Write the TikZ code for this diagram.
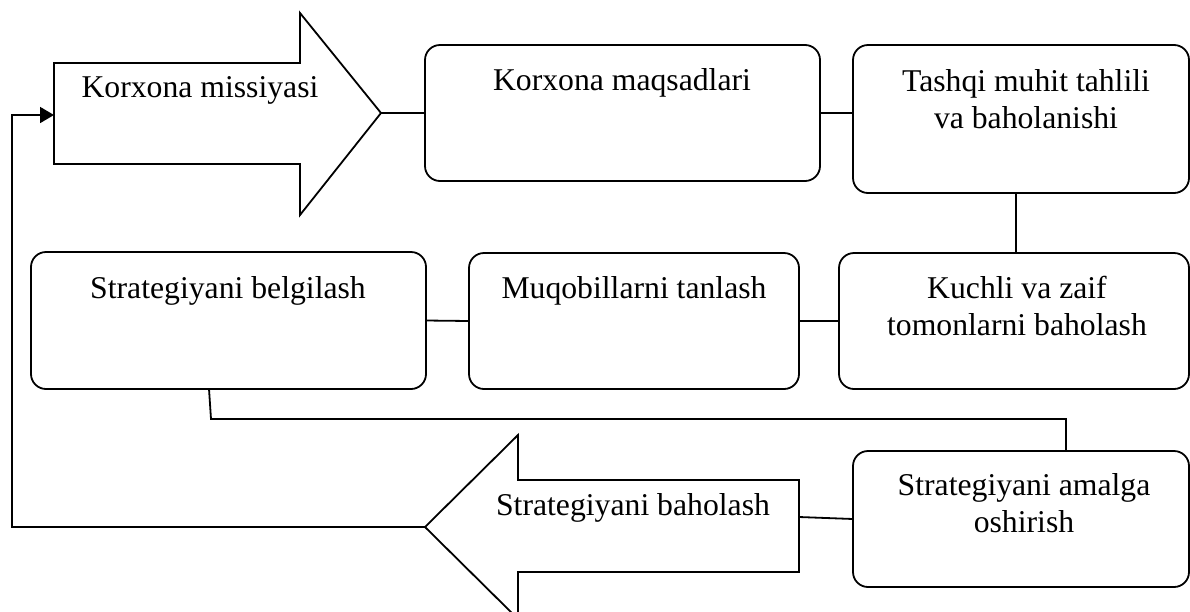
\documentclass[tikz,border=0pt]{standalone}
\usepackage{fontspec}
\setmainfont{Liberation Serif}
\usetikzlibrary{arrows.meta}
\tikzset{
  box/.style={draw, line width=1.8pt, rounded corners=15pt, inner sep=0pt, outer sep=0pt},
  arrowshape/.style={draw, line width=1.8pt, line join=miter},
  conn/.style={draw, line width=1.8pt},
  lbl/.style={anchor=base, inner sep=0pt, align=center, font=\fontsize{31.7}{36.5}\selectfont},
}
\begin{document}
\begin{tikzpicture}[x=1pt, y=-1pt]
\useasboundingbox (0,0) rectangle (1190,611);
% big arrows
\draw[arrowshape] (54,63) -- (300,63) -- (300,13) -- (381,113) -- (300,215) -- (300,164) -- (54,164) -- cycle;
\coordinate (mtip) at (381,113);
\coordinate (mfb) at (54,115);
\draw[arrowshape] (425,527) -- (518,435) -- (518,480) -- (799,480) -- (799,572) -- (518,572) -- (518,619) -- cycle;
\coordinate (btip) at (425,527);
\coordinate (bbody) at (799,517);
% boxes
\node[box, minimum width=395pt, minimum height=136pt] (maqsad) at (622.5,113) {};
\node[box, minimum width=336pt, minimum height=148pt] (tashqi) at (1021,119) {};
\node[box, minimum width=395pt, minimum height=137pt] (belg) at (228.5,320.5) {};
\node[box, minimum width=330pt, minimum height=136pt] (muqobil) at (634,321) {};
\node[box, minimum width=350pt, minimum height=136pt] (kuchli) at (1014,321) {};
\node[box, minimum width=336pt, minimum height=136pt] (amalga) at (1021,519) {};
% labels (base = baseline of the last line)
\node[lbl] (tmis) at (200,97) {Korxona missiyasi};
\node[lbl] (tmaq) at (622,90) {Korxona maqsadlari};
\node[lbl] (ttas) at (1026,128) {Tashqi muhit tahlili\\va baholanishi};
\node[lbl] (tbel) at (228,298) {Strategiyani belgilash};
\node[lbl] (tmuq) at (634,298) {Muqobillarni tanlash};
\node[lbl] (tkuc) at (1017,335) {Kuchli va zaif\\tomonlarni baholash};
\node[lbl] (tbah) at (633,515) {Strategiyani baholash};
\node[lbl] (tama) at (1024,532) {Strategiyani amalga\\oshirish};
% connectors
\draw[conn] (mtip) -- (maqsad.west);
\draw[conn] (maqsad.east) -- (maqsad.east -| tashqi.west);
\draw[conn] ([xshift=2pt]kuchli.north) -- ([xshift=2pt]kuchli.north |- tashqi.south);
\draw[conn] (belg.east) -- (muqobil.west);
\draw[conn] (muqobil.east) -- (kuchli.west);
\draw[conn] ([xshift=-19.5pt]belg.south) -- ++(2,30) -| ([xshift=45pt]amalga.north);
\draw[conn] (bbody) -- (amalga.west);
\draw[conn, -{Triangle[length=14pt, width=16pt]}] (btip) -| ([xshift=-42pt]mfb) -- (mfb);
\end{tikzpicture}
\end{document}
